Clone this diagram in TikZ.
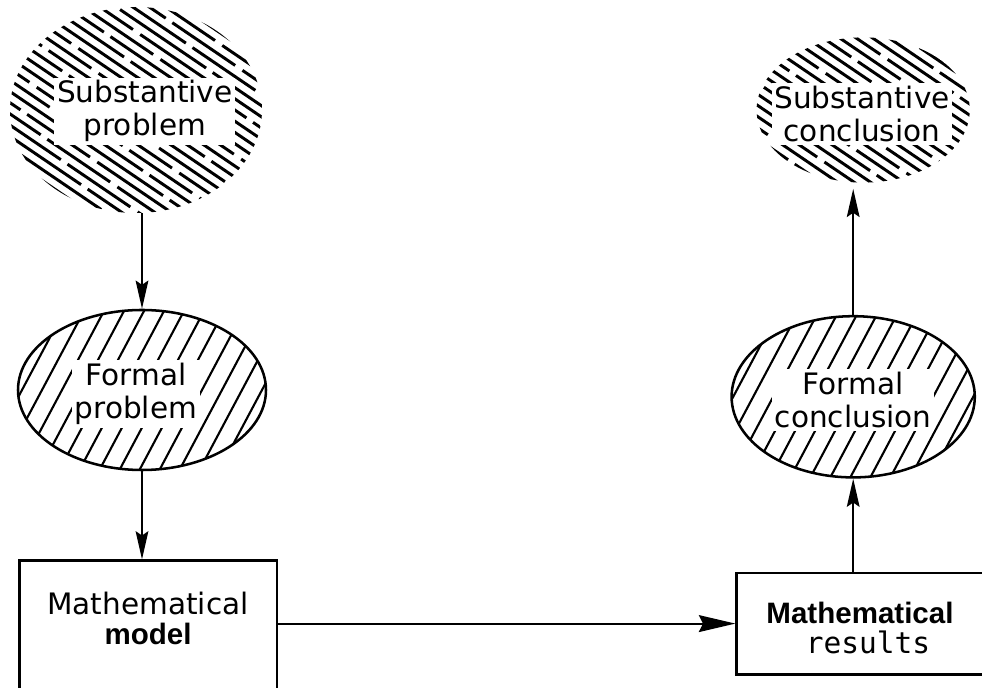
\documentclass[tikz,border=0pt]{standalone}
\usepackage{fontspec}
\setmainfont{DejaVu Sans}
\setmonofont{DejaVu Sans Mono}
\newfontfamily\arialfont{Liberation Sans}
\usetikzlibrary{arrows.meta,shapes.geometric}

\begin{document}
\begin{tikzpicture}[
    cloudhatch/.style={ellipse, draw=none, inner sep=0pt, path picture={
        \foreach \k in {-22,...,22}
          \draw[line width=2.1pt,
                dash pattern=on 2.6cm off 0.2cm on 1.9cm off 0.22cm,
                dash phase=\k*0.61cm,
                shift={(path picture bounding box.center)}]
            (-4.5,\k*0.28+3.06) -- (4.5,\k*0.28-3.06);}},
    ovalhatch/.style={ellipse, draw, line width=1.8pt, inner sep=0pt, path picture={
        \foreach \k in {-9,...,9}
          \draw[line width=1.5pt, shift={(path picture bounding box.center)}]
            (\k*0.5-1.17,-2.2) -- (\k*0.5+1.17,2.2);}},
    lettering/.style={fill=white, inner sep=2pt, align=center,
                      font=\fontsize{21}{23.5}\selectfont},
    mbox/.style={draw, line width=2pt, inner sep=0pt},
    arr/.style={-{Stealth[length=20pt, width=9pt, inset=3pt]}, line width=1.5pt},
]
  \useasboundingbox (0,0) rectangle (24.55,17.2);

  % left column
  \node[cloudhatch, minimum width=6.3cm, minimum height=5.15cm] (subprob) at (3.4,14.45) {};
  \node[lettering] (subprobtxt) at (3.62,14.42) {Substantive\\problem};

  \node[ovalhatch, minimum width=6.2cm, minimum height=4.0cm] (formprob) at (3.55,7.45) {};
  \node[lettering] (formprobtxt) at (3.4,7.35) {Formal\\problem};

  \node[mbox, minimum width=6.43cm, minimum height=3.68cm] (model) at (3.71,1.34) {};
  \node[align=center, font=\fontsize{21}{21}\selectfont] (modeltxt) at (3.7,1.74)
    {Mathematical\\{\arialfont\bfseries model}};

  % right column
  \node[cloudhatch, minimum width=5.33cm, minimum height=3.63cm] (subconc) at (21.58,14.45) {};
  \node[lettering] (subconctxt) at (21.55,14.35) {Substantive\\conclusion};

  \node[ovalhatch, minimum width=6.08cm, minimum height=4.03cm] (formconc) at (21.33,7.28) {};
  \node[lettering] (formconctxt) at (21.33,7.2) {Formal\\conclusion};

  \node[mbox, minimum width=6.58cm, minimum height=2.53cm] (results) at (21.71,1.61) {};
  \node[align=center, font=\fontsize{21}{22}\selectfont] (resultstxt) at (21.5,1.5)
    {{\arialfont\bfseries Mathematical}\\ \hspace*{0.4cm}{\ttfamily results}};

  % connectors
  \draw[arr] (formprob.north |- subprob.south) -- (formprob.north);
  \draw[arr] (formprob.south) -- (formprob.south |- model.north);
  \draw[arr, -{Stealth[length=26pt, width=12pt, inset=3pt]}]
    (model.east |- results.west) -- (results.west);
  \draw[arr] (formconc.south |- results.north) -- (formconc.south);
  \draw[arr] (formconc.north) -- ([yshift=-0.15cm]formconc.north |- subconc.south);
\end{tikzpicture}
\end{document}
